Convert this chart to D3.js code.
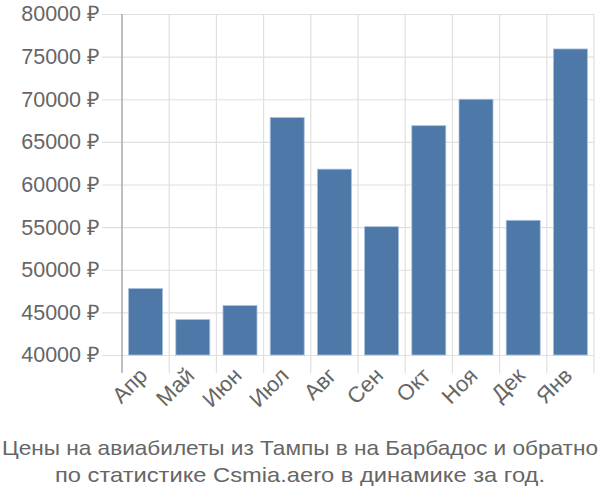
<!DOCTYPE html>
<html><head><meta charset="utf-8">
<script src="https://cdn.jsdelivr.net/npm/d3@7"></script>
<style>body{margin:0;background:#fff}svg{display:block}</style>
</head><body>
<script>
const categories = ["Апр","Май","Июн","Июл","Авг","Сен","Окт","Ноя","Дек","Янв"];
const values = [47800,44150,45800,67850,61800,55050,66900,70000,55800,75900];
const yTicks = [40000,45000,50000,55000,60000,65000,70000,75000,80000];
const titleLines = ["Цены на авиабилеты из Тампы в на Барбадос и обратно","по статистике Csmia.aero в динамике за год."];

const W=600,H=500;
const m={left:122,right:6,top:14,bottom:145};
const svg=d3.select("body").append("svg").attr("width",W).attr("height",H);
const x=d3.scaleBand().domain(categories).range([m.left,W-m.right]).paddingInner(0.28).paddingOuter(0.14);
const xg=d3.scalePoint().domain(d3.range(categories.length+1)).range([m.left,W-m.right]);
const y=d3.scaleLinear().domain([40000,80000]).range([H-m.bottom,m.top]);
const font="'Liberation Sans', Arial, sans-serif";

// horizontal grid + ticks
const gy=svg.append("g").attr("transform",`translate(${m.left},0)`)
 .call(d3.axisLeft(y).tickValues(yTicks).tickSize(-(W-m.right-m.left)).tickSizeOuter(0).tickPadding(22).tickFormat(d=>d+" ₽"));
gy.select(".domain").remove();
gy.selectAll(".tick line").attr("stroke","#e0e0e0").attr("stroke-width",1.2).attr("x1",-20);
gy.selectAll(".tick text").attr("fill","#666").attr("font-size",21.5).attr("font-family",font).attr("x",-22);

// vertical grid
svg.append("g").selectAll("line").data(d3.range(categories.length+1)).join("line")
 .attr("x1",d=>xg(d)).attr("x2",d=>xg(d)).attr("y1",m.top).attr("y2",H-m.bottom+18)
 .attr("stroke",d=>d===0?"#aaa":"#e0e0e0").attr("stroke-width",d=>d===0?1.5:1.2);

// bars
svg.append("g").selectAll("rect").data(values).join("rect")
 .attr("x",(d,i)=>x(categories[i])).attr("width",x.bandwidth())
 .attr("y",d=>y(d)).attr("height",d=>y(40000)-y(d))
 .attr("fill","#4e78a7").attr("stroke","#a9c1dc").attr("stroke-width",0.8);

// x labels
const xa=svg.append("g").attr("transform",`translate(0,${H-m.bottom})`)
 .call(d3.axisBottom(x).tickSize(0).tickPadding(0));
xa.select(".domain").remove();
xa.selectAll(".tick text").attr("fill","#666").attr("font-size",22).attr("font-family",font)
 .attr("text-anchor","end").attr("dy","0").attr("transform","translate(3,22) rotate(-45)");

// title
svg.append("g").selectAll("text").data(titleLines).join("text")
 .attr("x",W/2).attr("y",(d,i)=>455+i*27).attr("text-anchor","middle")
 .attr("fill","#666").attr("font-size",21).attr("font-family",font)
 .attr("textLength",(d,i)=>i===0?596:490).attr("lengthAdjust","spacingAndGlyphs").text(d=>d);
</script>
</body></html>
